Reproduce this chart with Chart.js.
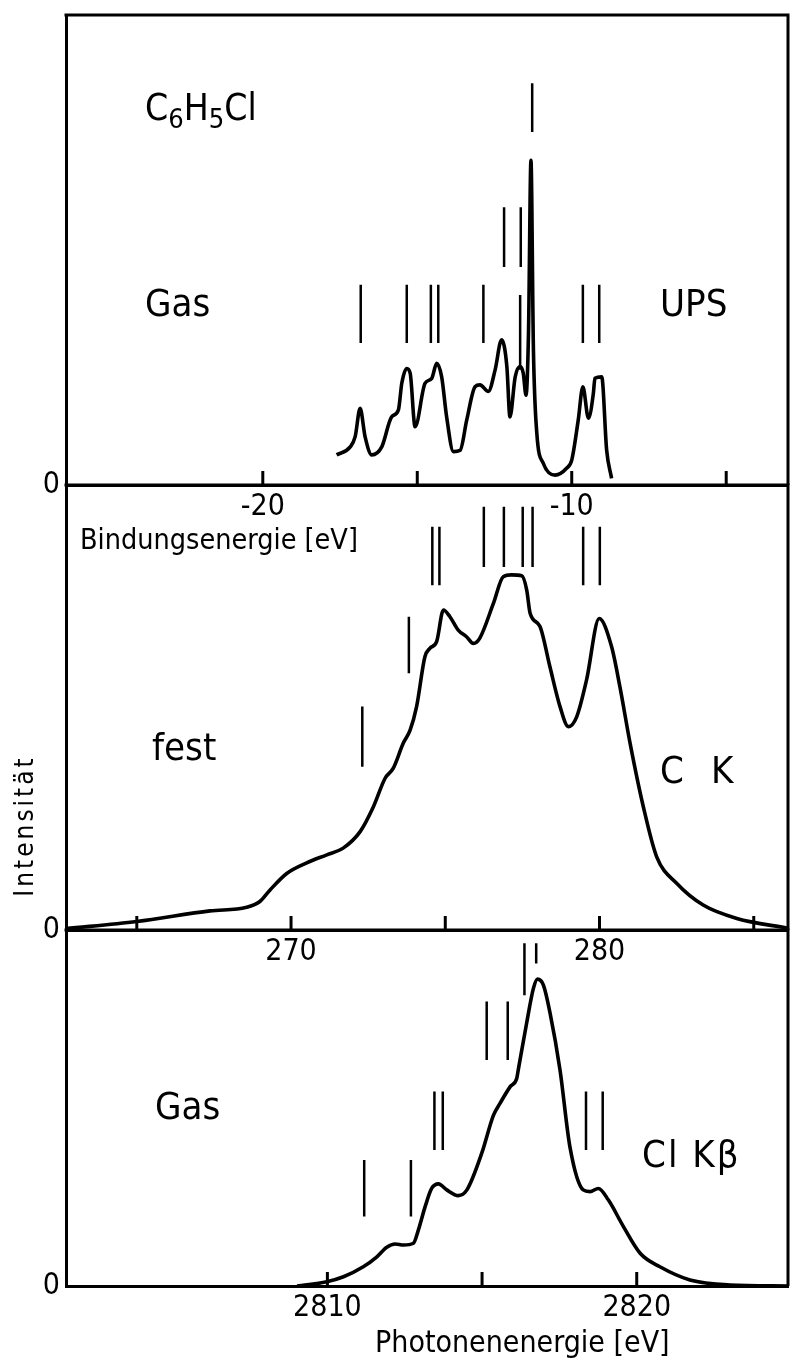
<!DOCTYPE html>
<html>
<head>
<meta charset="utf-8">
<script src="https://cdn.jsdelivr.net/npm/chart.js@4.4.1/dist/chart.umd.min.js"></script>
<style>
  html, body { margin: 0; padding: 0; background: #fff; }
  #wrap { position: relative; width: 790px; height: 1363px; }
  #wrap canvas { position: absolute; left: 0; top: 0; }
</style>
</head>
<body>
<div id="wrap">
  <canvas id="upsChart" width="790" height="1363"></canvas>
  <canvas id="ckChart" width="790" height="1363"></canvas>
  <canvas id="clChart" width="790" height="1363"></canvas>
</div>
<script>
// --- UPS, gas phase (binding energy, eV) ---
const upsEnergy = [-17.61, -17.17, -17.01, -16.85, -16.69, -16.47, -16.15, -15.83, -15.61, -15.50,
  -15.34, -15.23, -15.07, -14.75, -14.53, -14.37, -14.21, -14.05, -13.83, -13.61,
  -13.40, -13.13, -12.97, -12.70, -12.48, -12.27, -12.10, -12.00, -11.83, -11.67,
  -11.57, -11.48, -11.40, -11.32, -11.24, -11.13, -10.92, -10.54, -10.16, -10.00,
  -9.79, -9.64, -9.46, -9.30, -9.25, -9.03, -8.87, -8.71];
const upsIntensity = [6.4, 8.1, 10.3, 16.3, 10.3, 6.4, 8.1, 14.5, 16.0, 21.7,
  24.8, 23.8, 12.4, 21.6, 22.7, 25.9, 23.0, 14.5, 7.1, 7.4,
  13.8, 20.9, 21.3, 19.9, 24.5, 30.9, 25.2, 14.5, 23.0, 25.2,
  23.8, 19.1, 32.3, 69.1, 28.7, 11.0, 4.6, 2.1, 3.6, 5.3,
  13.8, 20.9, 14.2, 19.5, 22.7, 23.0, 7.4, 1.4];
const upsStickEnergy = [-16.83, -15.34, -14.56, -14.32, -12.86, -11.67, -9.64, -9.11, -12.19, -11.65, -11.28];
const upsStickLow = [30.2, 30.2, 30.2, 30.2, 30.2, 24.5, 30.2, 30.2, 46.4, 46.4, 75.1];
const upsStickHigh = [42.6, 42.6, 42.6, 42.6, 42.6, 40.4, 42.6, 42.6, 59.1, 59.1, 85.5];
const upsTicks = [-20, -15, -10, -5];

// --- C K emission, solid (photon energy, eV) ---
const ckEnergy = [262.70, 265.00, 267.37, 268.56, 268.99, 269.32, 269.86, 270.51, 271.16, 271.69,
  272.24, 272.67, 273.05, 273.31, 273.64, 273.86, 274.07, 274.34, 274.50, 274.72,
  274.94, 275.15, 275.42, 275.69, 275.91, 276.12, 276.56, 276.88, 277.15, 277.48,
  277.64, 277.75, 278.07, 278.39, 278.72, 278.99, 279.26, 279.58, 279.99, 280.39,
  280.66, 280.99, 281.42, 281.85, 282.50, 283.36, 284.45, 286.11];
const ckIntensity = [0.3, 1.9, 4.3, 5.1, 6.4, 9.0, 12.7, 15.1, 16.9, 18.4,
  22.1, 27.7, 34.1, 36.3, 42.0, 44.9, 50.2, 61.4, 63.3, 64.8,
  71.9, 70.4, 67.4, 65.9, 64.4, 65.6, 73.4, 79.4, 79.8, 79.6,
  76.4, 71.2, 68.2, 59.2, 50.2, 45.7, 47.9, 56.2, 70.0, 63.7,
  54.7, 42.0, 27.7, 16.5, 10.5, 5.6, 2.6, 0.4];
const ckStickEnergy = [272.31, 273.82, 274.58, 274.81, 276.25, 276.90, 277.51, 277.83, 279.47, 280.01];
const ckStickLow = [36.7, 57.7, 77.5, 77.5, 81.6, 81.6, 81.6, 81.6, 77.5, 77.5];
const ckStickHigh = [50.2, 70.4, 90.6, 90.6, 95.1, 95.1, 95.1, 95.1, 90.6, 90.6];
const ckTicks = [265, 270, 275, 280, 285];

// --- Cl K beta emission, gas (photon energy, eV) ---
const clEnergy = [2809.02, 2809.98, 2810.52, 2811.16, 2811.60, 2811.92, 2812.19, 2812.46, 2812.78, 2812.94,
  2813.16, 2813.37, 2813.59, 2813.86, 2814.23, 2814.51, 2814.99, 2815.37, 2815.58, 2815.91,
  2816.12, 2816.17, 2816.44, 2816.66, 2816.79, 2816.98, 2817.20, 2817.52, 2817.84, 2818.27,
  2818.49, 2818.76, 2819.08, 2819.57, 2820.11, 2820.75, 2821.72, 2823.01, 2824.89];
const clIntensity = [0, 1.2, 2.6, 5.4, 8.2, 10.9, 11.8, 11.5, 12.0, 15.7,
  22.3, 27.4, 28.7, 27.0, 25.4, 27.0, 37.3, 48.0, 51.3, 56.0,
  58.3, 60.7, 73.8, 83.6, 86.2, 84.6, 76.6, 60.7, 39.1, 27.0,
  26.5, 27.4, 24.2, 16.7, 9.2, 5.4, 1.7, 0.3, 0];
const clStickEnergy = [2811.19, 2812.70, 2813.46, 2813.73, 2815.15, 2815.83, 2816.37, 2816.75, 2818.36, 2818.90];
const clStickLow = [19.5, 19.5, 38.2, 38.2, 63.5, 63.5, 81.7, 90.6, 38.2, 38.2];
const clStickHigh = [35.4, 35.4, 54.6, 54.6, 79.9, 79.9, 96.3, 96.3, 54.6, 54.6];
const clTicks = [2810, 2815, 2820];

const TICK_FONT = "'Liberation Sans Narrow', 'DejaVu Sans Condensed', 'Liberation Sans', sans-serif";
const LABEL_FONT = "'DejaVu Sans Condensed', 'Liberation Sans Narrow', 'DejaVu Sans', sans-serif";
const PAGE_H = 1363;
const XAXIS_H = 40;

function toPoints(xs, ys) {
  return xs.map((x, i) => ({ x: x, y: ys[i] }));
}

// vertical marker sticks, separated by gaps
function toSticks(xs, lo, hi) {
  const pts = [];
  xs.forEach((x, i) => {
    pts.push({ x: x, y: lo[i] }, { x: x, y: hi[i] }, { x: x, y: null });
  });
  return pts;
}

function drawLabel(ctx, t) {
  const size = t.size || 38;
  const parts = Array.isArray(t.text) ? t.text : [[t.text]];
  ctx.save();
  ctx.translate(t.x, t.y);
  if (t.rotate) ctx.rotate(t.rotate);
  ctx.textBaseline = t.baseline || 'alphabetic';
  ctx.textAlign = 'left';
  if ('letterSpacing' in ctx) ctx.letterSpacing = (t.spacing || 0) + 'px';
  const fam = t.family || LABEL_FONT;
  const fontFor = p => (p[1] ? Math.round(size * 0.72) : size) + 'px ' + fam;
  let total = 0;
  parts.forEach(p => { ctx.font = fontFor(p); total += ctx.measureText(p[0]).width; });
  let cx = t.align === 'center' ? -total / 2 : 0;
  parts.forEach(p => {
    ctx.font = fontFor(p);
    ctx.fillText(p[0], cx, p[1] ? size * 0.22 : 0);
    cx += ctx.measureText(p[0]).width;
  });
  ctx.restore();
}

const panelDecor = {
  id: 'panelDecor',
  afterDraw(chart, args, opts) {
    const { ctx, chartArea: a } = chart;
    const x = chart.scales.x;
    ctx.save();
    ctx.strokeStyle = '#000';
    ctx.lineWidth = 3;
    ctx.beginPath();
    ctx.moveTo(a.left - 1.5, a.top);
    ctx.lineTo(a.right, a.top);
    ctx.lineTo(a.right, a.bottom);
    ctx.stroke();
    // tick marks pointing into the panel
    opts.ticks.forEach(v => {
      const px = x.getPixelForValue(v);
      ctx.beginPath();
      ctx.moveTo(px, a.bottom);
      ctx.lineTo(px, a.bottom - 14);
      ctx.stroke();
    });
    ctx.fillStyle = '#000';
    opts.texts.forEach(t => drawLabel(ctx, t));
    ctx.restore();
  }
};

function makePanel(id, p) {
  const ctx = document.getElementById(id).getContext('2d');
  return new Chart(ctx, {
    type: 'line',
    data: {
      datasets: [
        {
          data: toPoints(p.energy, p.intensity),
          borderColor: '#000',
          borderWidth: 3.6,
          pointRadius: 0,
          cubicInterpolationMode: 'monotone',
          fill: false
        },
        {
          data: toSticks(p.stickE, p.stickLo, p.stickHi),
          borderColor: '#000',
          borderWidth: 2.5,
          pointRadius: 0,
          tension: 0,
          spanGaps: false,
          fill: false
        }
      ]
    },
    options: {
      responsive: false,
      animation: false,
      events: [],
      layout: { padding: { top: p.top, bottom: PAGE_H - p.bottom - XAXIS_H, left: 0, right: 2 } },
      plugins: {
        legend: { display: false },
        tooltip: { enabled: false },
        panelDecor: { ticks: p.ticks, texts: p.texts }
      },
      scales: {
        x: {
          type: 'linear',
          min: p.xMin,
          max: p.xMax,
          afterBuildTicks: s => { s.ticks = p.ticks.map(v => ({ value: v })); },
          afterFit: s => { s.height = XAXIS_H; s.paddingLeft = 0; s.paddingRight = 0; },
          grid: { drawOnChartArea: false, drawTicks: false },
          border: { width: 3, color: '#000' },
          ticks: {
            autoSkip: false,
            maxRotation: 0,
            padding: 4,
            color: '#000',
            font: { family: TICK_FONT, size: 30 },
            callback: v => (v % 10 === 0 ? String(v) : '')
          }
        },
        y: {
          min: 0,
          max: 100,
          afterBuildTicks: s => { s.ticks = [{ value: 0 }]; },
          afterFit: s => { s.width = 66; s.paddingTop = 0; s.paddingBottom = 0; },
          grid: { drawOnChartArea: false, drawTicks: false },
          border: { width: 3, color: '#000' },
          ticks: {
            padding: 6,
            color: '#000',
            font: { family: TICK_FONT, size: 30 },
            callback: v => (v === 0 ? '0' : '')
          }
        }
      }
    },
    plugins: [panelDecor]
  });
}

makePanel('upsChart', {
  energy: upsEnergy, intensity: upsIntensity,
  stickE: upsStickEnergy, stickLo: upsStickLow, stickHi: upsStickHigh,
  ticks: upsTicks, xMin: -26.37, xMax: -3.0, top: 15, bottom: 485,
  texts: [
    { text: [['C'], ['6', true], ['H'], ['5', true], ['Cl']], x: 145, y: 120, size: 37 },
    { text: 'Gas', x: 145, y: 316 },
    { text: 'UPS', x: 660, y: 316 },
    { text: 'Bindungsenergie [eV]', x: 80, y: 549, size: 28.5 }
  ]
});

makePanel('ckChart', {
  energy: ckEnergy, intensity: ckIntensity,
  stickE: ckStickEnergy, stickLo: ckStickLow, stickHi: ckStickHigh,
  ticks: ckTicks, xMin: 262.705, xMax: 286.11, top: 485, bottom: 930,
  texts: [
    { text: 'fest', x: 152, y: 760 },
    { text: 'C', x: 660, y: 783 },
    { text: 'K', x: 711, y: 783 },
    { text: 'Intensität', x: 26, y: 826, size: 26, rotate: -Math.PI / 2, align: 'center', baseline: 'middle', spacing: 3 }
  ]
});

makePanel('clChart', {
  energy: clEnergy, intensity: clIntensity,
  stickE: clStickEnergy, stickLo: clStickLow, stickHi: clStickHigh,
  ticks: clTicks, xMin: 2801.55, xMax: 2824.89, top: 930, bottom: 1286,
  texts: [
    { text: 'Gas', x: 155, y: 1119 },
    { text: 'Cl Kβ', x: 642, y: 1167, spacing: 2 },
    { text: 'Photonenenergie [eV]', x: 375, y: 1352, size: 30 }
  ]
});
</script>
</body>
</html>
